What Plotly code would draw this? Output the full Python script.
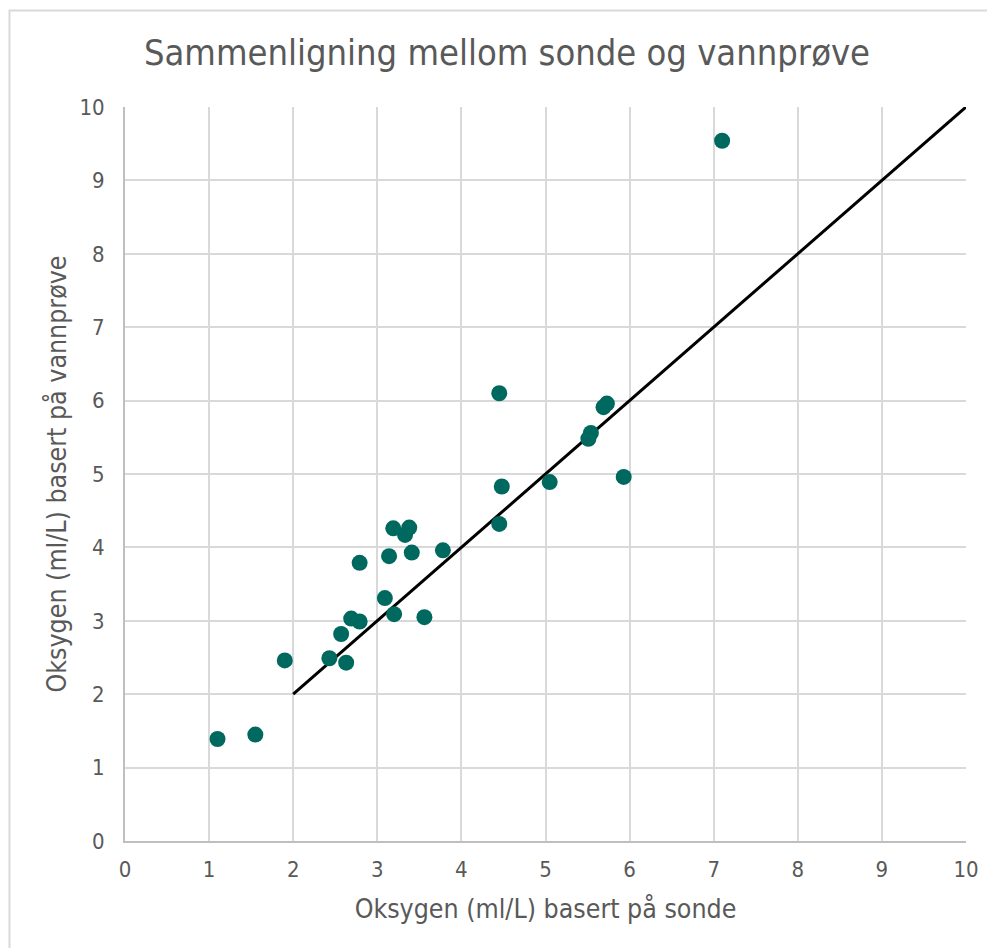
import plotly.graph_objects as go

sonde = [1.10, 1.55, 1.90, 2.43, 2.63, 2.57, 2.69, 2.79, 2.79, 3.09, 3.20, 3.14, 3.19,
         3.33, 3.38, 3.41, 3.56, 3.78, 4.45, 4.48, 4.45, 5.05, 5.51, 5.54, 5.69, 5.73, 5.93, 7.10]
vannprove = [1.39, 1.45, 2.46, 2.49, 2.43, 2.82, 3.03, 2.99, 3.79, 3.31, 3.09, 3.88, 4.26,
             4.17, 4.27, 3.93, 3.05, 3.96, 6.10, 4.83, 4.32, 4.89, 5.48, 5.56, 5.91, 5.96, 4.96, 9.54]
line_x = [2, 10]
line_y = [2, 10]

FONT = "DejaVu Sans Condensed"
GREY = "#595959"
OFF = 8  # page body margin

L, T, PW, PH = 125 - OFF, 107 - OFF, 841, 734
W, H = 995 - OFF, 948 - OFF

fig = go.Figure()
fig.add_trace(go.Scatter(x=line_x, y=line_y, mode="lines",
                         line=dict(color="black", width=3), showlegend=False, hoverinfo="skip"))
fig.add_trace(go.Scatter(x=sonde, y=vannprove, mode="markers",
                         marker=dict(color="#00695F", size=16, line=dict(width=0)),
                         showlegend=False))

fig.update_layout(
    width=W, height=H,
    margin=dict(l=L, r=W - L - PW, t=T, b=H - T - PH),
    paper_bgcolor="white", plot_bgcolor="white",
    font=dict(family=FONT, color=GREY),
    title=dict(text="Sammenligning mellom sonde og vannprøve",
               font=dict(family=FONT, size=36, color=GREY),
               x=(507 - OFF) / W, xanchor="center", xref="container",
               y=1 - (52 - OFF) / H, yanchor="middle", yref="container"),
    xaxis=dict(range=[0, 10], dtick=1, showgrid=True, gridcolor="#d9d9d9", gridwidth=2,
               zeroline=False, showline=True, linecolor="#bfbfbf", linewidth=2,
               ticks="", tickfont=dict(size=22, color=GREY), ticklabelstandoff=8,
               title=dict(text="Oksygen (ml/L) basert på sonde",
                          font=dict(size=26.5, color=GREY), standoff=18)),
    yaxis=dict(range=[0, 10], dtick=1, showgrid=True, gridcolor="#d9d9d9", gridwidth=2,
               zeroline=False, showline=True, linecolor="#bfbfbf", linewidth=2,
               ticks="", tickfont=dict(size=22, color=GREY), ticklabelstandoff=14,
               title=dict(text="Oksygen (ml/L) basert på vannprøve",
                          font=dict(size=26.5, color=GREY), standoff=5)),
    shapes=[dict(type="rect", xref="paper", yref="paper",
                 x0=(OFF + 1.5 - 125) / PW, x1=1.2, y0=-0.3, y1=(841 - 10.5) / PH,
                 line=dict(color="#d9d9d9", width=2), fillcolor="rgba(0,0,0,0)", layer="below")],
)

fig.write_html("out.html")
